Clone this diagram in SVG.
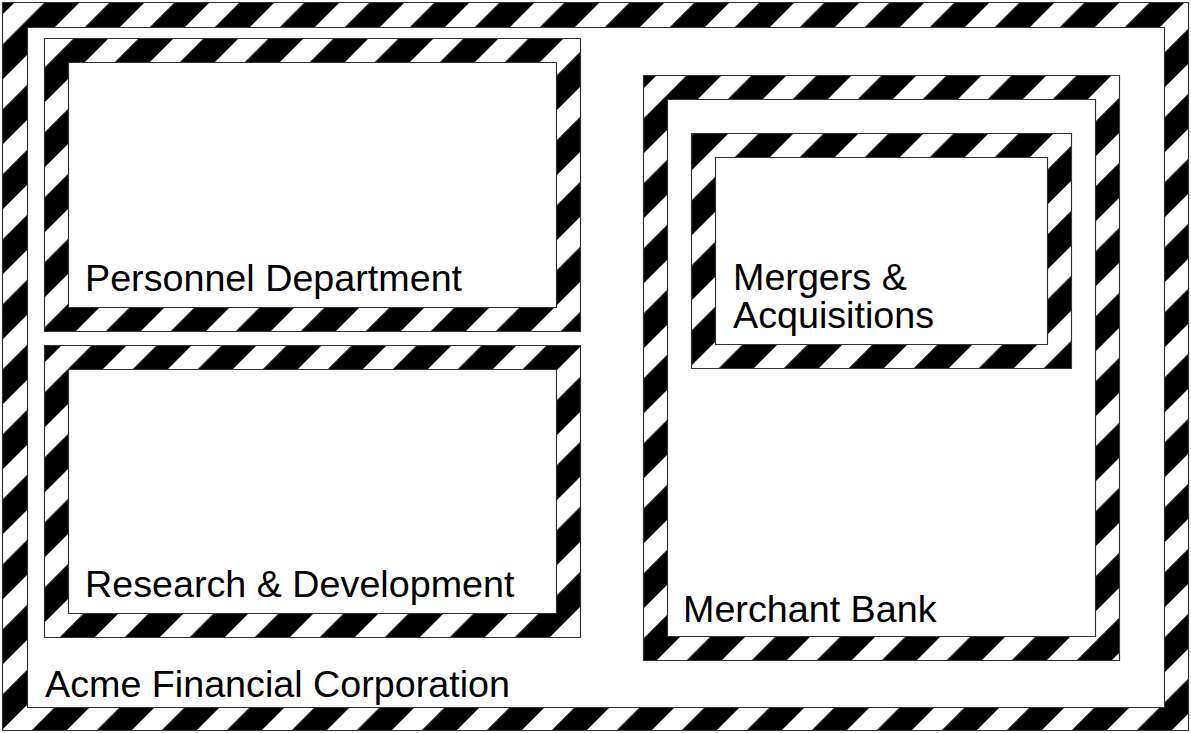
<svg xmlns="http://www.w3.org/2000/svg" width="1191" height="733" viewBox="0 0 1191 733">
  <defs>
    <pattern id="stripes" patternUnits="userSpaceOnUse" x="12.02" y="0" width="45.962" height="20" patternTransform="rotate(45)">
      <rect width="45.962" height="20" fill="#000"/>
      <rect width="21.21" height="20" fill="#fff"/>
    </pattern>
  </defs>
  <style>
    .band { fill: url(#stripes); fill-rule: evenodd; stroke: #333; stroke-width: 1.2; }
    .label { font-family: "Liberation Sans", Arial, sans-serif; font-size: 37.7px; fill: #000; }
  </style>
  <rect width="1191" height="733" fill="#fff"/>
  <g id="acme">
    <path class="band" d="M2.5,2.5 H1188.5 V730.5 H2.5 Z M27.5,27.5 V707.5 H1164.5 V27.5 Z"/>
    <text class="label" x="45" y="697">Acme Financial Corporation</text>
  </g>
  <g id="personnel">
    <path class="band" d="M44.5,38.5 H580.5 V331.5 H44.5 Z M68.5,62.5 V307.5 H556.5 V62.5 Z"/>
    <text class="label" x="85" y="291">Personnel Department</text>
  </g>
  <g id="research">
    <path class="band" d="M44.5,345.5 H580.5 V637.5 H44.5 Z M68.5,369.5 V613.5 H556.5 V369.5 Z"/>
    <text class="label" x="85" y="597">Research &amp; Development</text>
  </g>
  <g id="merchant">
    <path class="band" d="M643.5,75.5 H1119.5 V660.5 H643.5 Z M667.5,99.5 V636.5 H1095.5 V99.5 Z"/>
    <text class="label" x="683" y="622">Merchant Bank</text>
  </g>
  <g id="mergers">
    <path class="band" d="M691.5,133.5 H1071.5 V368.5 H691.5 Z M715.5,157.5 V344.5 H1047.5 V157.5 Z"/>
    <text class="label" x="733" y="290">Mergers &amp;</text>
    <text class="label" x="733" y="328">Acquisitions</text>
  </g>
  <g id="connectors"/>
</svg>
